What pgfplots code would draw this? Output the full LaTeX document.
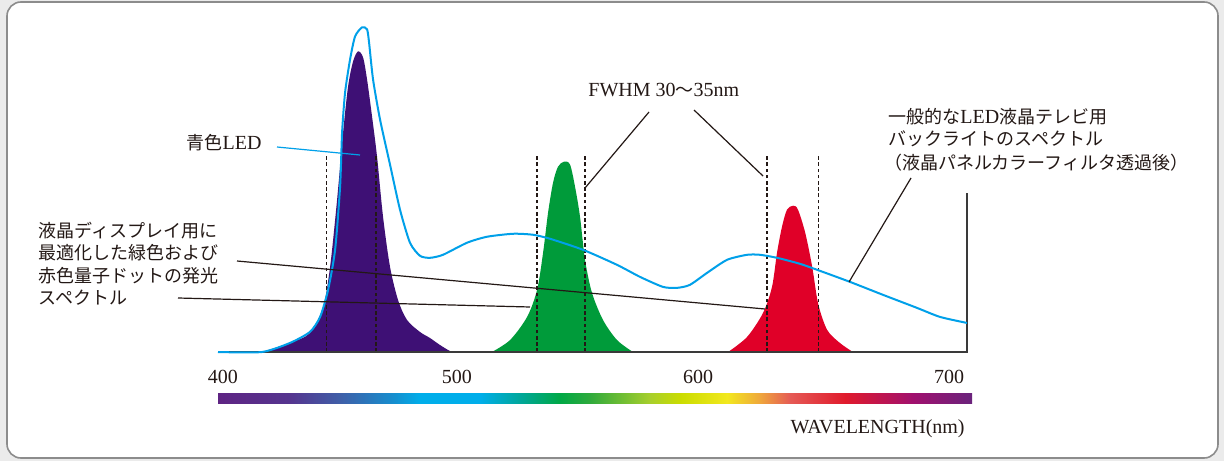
\documentclass[border=0pt]{standalone}
\usepackage{fontspec}
\setmainfont{Liberation Serif}
\newfontfamily\cjk{Noto Sans CJK JP}
\usepackage{pgfplots}
\pgfplotsset{compat=1.18}

\definecolor{bgout}{HTML}{EBEBEB}
\definecolor{frame}{HTML}{8C8C8C}
\definecolor{ink}{HTML}{231815}
\definecolor{ledcyan}{HTML}{00A0E9}
\definecolor{qdviolet}{HTML}{3E1075}
\definecolor{qdgreen}{HTML}{009B3A}
\definecolor{qdred}{HTML}{E00028}
\definecolor{axisgray}{HTML}{3A3A3A}
% spectrum bar stops
\definecolor{sA}{RGB}{94,36,131}
\definecolor{sB}{RGB}{85,53,143}
\definecolor{sC}{RGB}{63,95,168}
\definecolor{sD}{RGB}{20,144,208}
\definecolor{sE}{RGB}{0,174,234}
\definecolor{sF}{RGB}{0,167,154}
\definecolor{sG}{RGB}{0,168,69}
\definecolor{sH}{RGB}{48,170,60}
\definecolor{sI}{RGB}{168,207,44}
\definecolor{sJ}{RGB}{202,220,0}
\definecolor{sK}{RGB}{242,232,30}
\definecolor{sL}{RGB}{239,166,60}
\definecolor{sM}{RGB}{229,90,85}
\definecolor{sN}{RGB}{224,26,44}
\definecolor{sO}{RGB}{160,16,110}
\definecolor{sP}{RGB}{106,35,124}

\begin{document}
\begin{tikzpicture}[x=0.5pt,y=0.5pt]
\useasboundingbox (0,0) rectangle (1224,461);
\fill[bgout] (0,0) rectangle (1224,461);
\filldraw[fill=white,draw=frame,line width=0.8pt,rounded corners=7pt] (7,3) rectangle (1218,459);

% spectrum bar
\shade[left color=sA,right color=sB] (218,58) rectangle (290.5,68);
\shade[left color=sB,right color=sC] (290,58) rectangle (340.5,68);
\shade[left color=sC,right color=sD] (340,58) rectangle (395.5,68);
\shade[left color=sD,right color=sE] (395,58) rectangle (420.5,68);
\shade[left color=sE,right color=sE] (420,58) rectangle (480.5,68);
\shade[left color=sE,right color=sF] (480,58) rectangle (520.5,68);
\shade[left color=sF,right color=sG] (520,58) rectangle (560.5,68);
\shade[left color=sG,right color=sH] (560,58) rectangle (590.5,68);
\shade[left color=sH,right color=sI] (590,58) rectangle (650.5,68);
\shade[left color=sI,right color=sJ] (650,58) rectangle (680.5,68);
\shade[left color=sJ,right color=sK] (680,58) rectangle (727.5,68);
\shade[left color=sK,right color=sL] (727,58) rectangle (760.5,68);
\shade[left color=sL,right color=sM] (760,58) rectangle (790.5,68);
\shade[left color=sM,right color=sN] (790,58) rectangle (845.5,68);
\shade[left color=sN,right color=sO] (845,58) rectangle (913.5,68);
\shade[left color=sO,right color=sP] (913,58) rectangle (972,68);

\begin{axis}[
 at={(109pt,54.5pt)}, anchor=south west,
 scale only axis, width=374.5pt, height=162pt,
 xmin=400, xmax=700, ymin=0, ymax=324,
 clip=false,
 axis line style={draw=none},
 ytick=\empty,
 xtick={402.0,495.7,592.3,692.8},
 xticklabels={400,500,600,700},
 major tick length=0pt,
 xticklabel style={anchor=base,yshift=-15.5pt,font=\fontsize{10}{12}\selectfont,text=ink},
]
% quantum dot / LED emission
\addplot[draw=none,fill=qdviolet,smooth] coordinates {
 (417.6,0) (428.8,9) (436.8,19) (442.1,45) (444.9,85) (447.7,152) (450.1,219)
 (452.1,265) (454.1,290) (456.1,300) (458.1,294) (459.7,272) (461.7,235)
 (463.7,195) (466.1,135) (468.9,85) (472.1,52) (475.7,32) (480.9,20)
 (484.9,14) (488.9,7) (492.9,1) (494.9,0)} \closedcycle;
\addplot[draw=none,fill=qdgreen,smooth] coordinates {
 (509.7,0) (517.0,12) (523.8,35) (527.8,62) (530.2,99) (532.2,139) (534.2,169)
 (536.2,185) (538.6,190) (541.0,187) (543.0,165) (545.0,135) (547.0,92)
 (549.8,59) (554.2,32) (559.8,12) (566.2,0)} \closedcycle;
\addplot[draw=none,fill=qdred,smooth] coordinates {
 (604.3,0) (611.9,15) (618.3,39) (621.9,65) (623.9,99) (625.9,125) (627.9,142)
 (630.4,146) (632.3,142) (635.2,119) (638.0,85) (640.4,48) (644.0,22)
 (649.1,9) (654.3,0)} \closedcycle;

% FWHM markers
\addplot[ink,line width=0.6pt,dash pattern=on 1.8pt off 1.3pt] coordinates {(443.3,0) (443.3,197)};
\addplot[ink,line width=0.6pt,dash pattern=on 1.8pt off 1.3pt] coordinates {(463.3,0) (463.3,197)};
\addplot[ink,line width=0.6pt,dash pattern=on 1.8pt off 1.3pt] coordinates {(527.8,0) (527.8,197)};
\addplot[ink,line width=0.6pt,dash pattern=on 1.8pt off 1.3pt] coordinates {(547.0,0) (547.0,197)};
\addplot[ink,line width=0.6pt,dash pattern=on 1.8pt off 1.3pt] coordinates {(619.9,0) (619.9,197)};
\addplot[ink,line width=0.6pt,dash pattern=on 1.8pt off 1.3pt] coordinates {(640.4,0) (640.4,197)};

% axis frame
\addplot[axisgray,line width=0.75pt] coordinates {(400,0) (700,0) (700,159)};

% backlight spectrum
\addplot[ledcyan,line width=1pt,smooth,tension=0.4] coordinates {
 (400.0,0) (417.6,0) (428.8,9) (436.8,20) (440.9,35) (444.1,62) (446.9,102)
 (448.9,165) (449.7,219) (450.9,259) (452.9,292) (454.9,315) (457.7,324)
 (459.7,322) (460.5,309) (462.1,272) (464.9,232) (468.9,187) (472.9,142)
 (476.9,109) (480.9,96) (484.9,94) (490.1,97) (499.7,109) (507.7,115)
 (518.2,118) (526.2,117) (533.0,113) (546.2,102) (559.8,87) (569.0,75)
 (578.2,65) (583.8,64) (589.0,67) (595.9,79) (603.9,92) (611.9,97)
 (617.1,97) (623.9,94) (633.1,88) (641.1,81) (653.1,70) (666.4,57)
 (680.0,44) (689.2,35) (700.0,29)};
\end{axis}

% leaders
\draw[ledcyan,line width=0.6pt] (277,314) -- (360,306);
\draw[ink,line width=0.6pt] (237,200) -- (765,152);
\draw[ink,line width=0.6pt] (178,163) -- (530,154);
\draw[ink,line width=0.6pt] (649,349) -- (585,273);
\draw[ink,line width=0.6pt] (694,351) -- (763,285);
\draw[ink,line width=0.6pt] (911,283) -- (849,179);

% texts
\begin{scope}[every node/.style={inner sep=0pt,text=ink,font=\fontsize{9}{11}\selectfont}]
\node[anchor=base east] at (262,311) {{\cjk 青色}\fontsize{10}{12}\selectfont LED};
\node[anchor=base west] at (38,224) {\cjk 液晶ディスプレイ用に};
\node[anchor=base west] at (38,201.5) {\cjk 最適化した緑色および};
\node[anchor=base west] at (38,179) {\cjk 赤色量子ドットの発光};
\node[anchor=base west] at (38,156.5) {\cjk スペクトル};
\node[anchor=base west] at (588,364) {\fontsize{10}{12}\selectfont FWHM 30{\cjk\fontsize{9}{11}\selectfont 〜}35nm};
\node[anchor=base west] at (888,337) {{\cjk 一般的な}\fontsize{10}{12}\selectfont LED{\cjk\fontsize{9}{11}\selectfont 液晶テレビ用}};
\node[anchor=base west] at (888,315.5) {\cjk バックライトのスペクトル};
\node[anchor=base west] at (884,292) {\cjk （液晶パネルカラーフィルタ透過後）};
\node[anchor=base east] at (965,27.5) {\fontsize{10}{12}\selectfont WAVELENGTH(nm)};
\end{scope}
\end{tikzpicture}
\end{document}
